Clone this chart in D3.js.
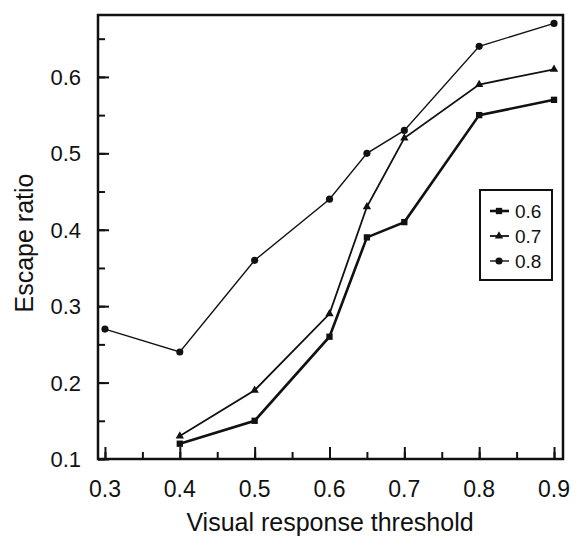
<!DOCTYPE html>
<html>
<head>
<meta charset="utf-8">
<script src="https://cdn.jsdelivr.net/npm/d3@7"></script>
<style>
  body { margin: 0; background: #fff; }
  text { font-family: "Liberation Sans", Arial, sans-serif; fill: #111; }
</style>
</head>
<body>
<div id="chart"></div>
<script>
// data
const xVals6 = [0.4, 0.5, 0.6, 0.65, 0.7, 0.8, 0.9];
const yVals6 = [0.12, 0.15, 0.26, 0.39, 0.41, 0.55, 0.57];
const xVals7 = [0.4, 0.5, 0.6, 0.65, 0.7, 0.8, 0.9];
const yVals7 = [0.13, 0.19, 0.29, 0.43, 0.52, 0.59, 0.61];
const xVals8 = [0.3, 0.4, 0.5, 0.6, 0.65, 0.7, 0.8, 0.9];
const yVals8 = [0.27, 0.24, 0.36, 0.44, 0.50, 0.53, 0.64, 0.67];
const seriesNames = ["0.6", "0.7", "0.8"];
const xTicks = [0.3, 0.4, 0.5, 0.6, 0.7, 0.8, 0.9];
const yTicks = [0.1, 0.2, 0.3, 0.4, 0.5, 0.6];

const W = 580, H = 539;
const plotL = 98, plotR = 563, plotT = 15, plotB = 459;

const svg = d3.select("#chart").append("svg")
    .attr("width", W).attr("height", H);

const x = d3.scaleLinear().domain([0.2907, 0.912]).range([plotL, plotR]);
const y = d3.scaleLinear().domain([0.1, 0.681]).range([plotB, plotT]);

// frame
svg.append("rect")
    .attr("x", plotL).attr("y", plotT)
    .attr("width", plotR - plotL).attr("height", plotB - plotT)
    .attr("fill", "none").attr("stroke", "#111").attr("stroke-width", 2.5);

// x axis, ticks inward
const xMinor = d3.range(0.3, 0.91, 0.05);
svg.append("g")
    .attr("transform", "translate(0," + plotB + ")")
    .call(d3.axisTop(x).tickValues(xMinor).tickSize(7).tickFormat(""))
    .call(g => g.select(".domain").remove())
    .selectAll("line").attr("stroke", "#111").attr("stroke-width", 2);
svg.append("g")
    .attr("transform", "translate(0," + plotB + ")")
    .call(d3.axisTop(x).tickValues(xTicks).tickSize(12).tickFormat(""))
    .call(g => g.select(".domain").remove())
    .selectAll("line").attr("stroke", "#111").attr("stroke-width", 2);
svg.append("g")
    .selectAll("text")
    .data(xTicks)
    .enter()
    .append("text")
    .attr("x", d => x(d))
    .attr("y", 497)
    .attr("text-anchor", "middle")
    .style("font-size", "23px")
    .text(d => d3.format(".1f")(d));

// y axis, ticks inward
const yMinor = d3.range(0.1, 0.67, 0.05);
svg.append("g")
    .attr("transform", "translate(" + plotL + ",0)")
    .call(d3.axisRight(y).tickValues(yMinor).tickSize(7).tickFormat(""))
    .call(g => g.select(".domain").remove())
    .selectAll("line").attr("stroke", "#111").attr("stroke-width", 2);
svg.append("g")
    .attr("transform", "translate(" + plotL + ",0)")
    .call(d3.axisRight(y).tickValues(yTicks).tickSize(11).tickFormat(""))
    .call(g => g.select(".domain").remove())
    .selectAll("line").attr("stroke", "#111").attr("stroke-width", 2);
svg.append("g")
    .selectAll("text")
    .data(yTicks)
    .enter()
    .append("text")
    .attr("x", 81)
    .attr("y", d => y(d) + 8)
    .attr("text-anchor", "end")
    .style("font-size", "22px")
    .text(d => d3.format(".1f")(d));

// axis titles
svg.append("text")
    .attr("x", 330).attr("y", 531)
    .attr("text-anchor", "middle")
    .style("font-size", "25px")
    .text("Visual response threshold");
svg.append("text")
    .attr("transform", "translate(33,243) rotate(-90)")
    .attr("text-anchor", "middle")
    .style("font-size", "25px")
    .text("Escape ratio");

const line = d3.line().x(d => x(d[0])).y(d => y(d[1]));
const series = [
    { name: seriesNames[0], data: d3.zip(xVals6, yVals6), width: 2.6, sym: d3.symbolSquare, size: 40 },
    { name: seriesNames[1], data: d3.zip(xVals7, yVals7), width: 1.8, sym: d3.symbolTriangle, size: 30 },
    { name: seriesNames[2], data: d3.zip(xVals8, yVals8), width: 1.4, sym: d3.symbolCircle, size: 40 }
];

series.forEach(s => {
    svg.append("path")
        .datum(s.data)
        .attr("d", line)
        .attr("fill", "none")
        .attr("stroke", "#111")
        .attr("stroke-width", s.width);
    svg.append("g")
        .selectAll("path")
        .data(s.data)
        .enter()
        .append("path")
        .attr("transform", d => "translate(" + x(d[0]) + "," + y(d[1]) + ")")
        .attr("d", d3.symbol().type(s.sym).size(s.size))
        .attr("fill", "#111");
});

// legend
const lg = svg.append("g");
lg.append("rect")
    .attr("x", 480).attr("y", 190)
    .attr("width", 72).attr("height", 90)
    .attr("fill", "#fff").attr("stroke", "#111").attr("stroke-width", 2);
series.forEach((s, i) => {
    const ly = 211 + i * 25;
    lg.append("line")
        .attr("x1", 490).attr("x2", 509)
        .attr("y1", ly).attr("y2", ly)
        .attr("stroke", "#111").attr("stroke-width", s.width);
    lg.append("path")
        .attr("transform", "translate(499," + ly + ")")
        .attr("d", d3.symbol().type(s.sym).size(s.size))
        .attr("fill", "#111");
    lg.append("text")
        .attr("x", 515).attr("y", ly + 7)
        .style("font-size", "19px")
        .text(s.name);
});
</script>
</body>
</html>
